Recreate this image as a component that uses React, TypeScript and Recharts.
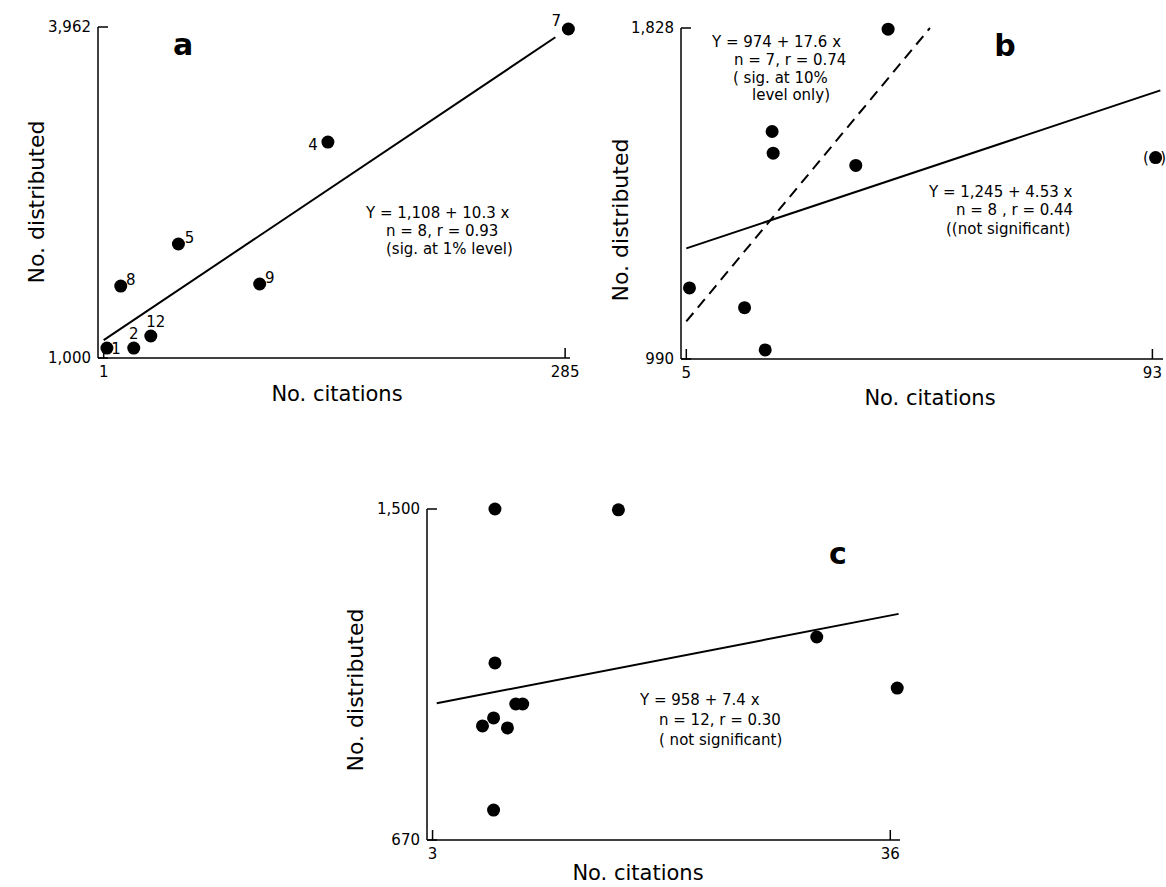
import { ScatterChart, Scatter, XAxis, YAxis, ReferenceLine } from "recharts";

// panel a: numbered points
const labelsA = ["1", "2", "12", "8", "5", "9", "4", "7"];
const citesA = [3, 19.5, 30, 11.5, 47, 97, 139, 287];
const distA = [1089, 1089, 1197, 1644, 2020, 1662, 2932, 3944];
const fitA = [
  { x: 1, y: 1160 },
  { x: 279, y: 3870 },
];

// panel b: last point is the bracketed one
const citesB = [5.6, 16, 19.9, 21.2, 21.4, 37, 43.1, 93.6];
const distB = [1170, 1120, 1013, 1566, 1511, 1480, 1825, 1500];
const fitB7 = [
  { x: 5, y: 1085 },
  { x: 51, y: 1828 },
];
const fitB8 = [
  { x: 5, y: 1270 },
  { x: 94.5, y: 1670 },
];

// panel c
const citesC = [7.5, 16.4, 7.5, 7.4, 6.6, 8.4, 9.0, 9.5, 7.4, 30.7, 36.5];
const distC = [1500, 1498, 1114, 976, 956, 951, 1011, 1011, 745, 1179, 1051];
const fitC = [
  { x: 3.3, y: 1013 },
  { x: 36.6, y: 1237 },
];

const ticksA = { x: [1, 285], y: [1000, 3962] };
const ticksB = { x: [5, 93], y: [990, 1828] };
const ticksC = { x: [3, 36], y: [670, 1500] };

// where each number sits relative to its dot
const labelOffset: Record<string, [number, number]> = {
  "1": [9, 1],
  "2": [0, -14],
  "12": [5, -14],
  "8": [10, -6],
  "5": [11, -6],
  "9": [10, -6],
  "4": [-15, 3],
  "7": [-12, -8],
};

const font = "'DejaVu Sans', sans-serif";

const dataA = citesA.map((x, i) => ({ x, y: distA[i], label: labelsA[i] }));
const dataB = citesB.map((x, i) => ({ x, y: distB[i] }));
const dataC = citesC.map((x, i) => ({ x, y: distC[i] }));

const fmt = (v: number) => v.toLocaleString("en-US");

function YTick(props: any) {
  const { x, y, payload } = props;
  return (
    <g>
      <line x1={x} x2={x + 10} y1={y} y2={y} stroke="#000" strokeWidth={1.5} />
      <text x={x - 7} y={y + 5} textAnchor="end" fontSize={15} fontFamily={font} fill="#000">
        {fmt(payload.value)}
      </text>
    </g>
  );
}

function XTick(props: any) {
  const { x, y, payload } = props;
  return (
    <g>
      <line x1={x} x2={x} y1={y} y2={y - 10} stroke="#000" strokeWidth={1.5} />
      <text x={x} y={y + 19} textAnchor="middle" fontSize={15} fontFamily={font} fill="#000">
        {payload.value}
      </text>
    </g>
  );
}

function Dot(props: any) {
  const { cx, cy, payload } = props;
  const off = payload && payload.label ? labelOffset[payload.label] : null;
  return (
    <g>
      <circle cx={cx} cy={cy} r={6.5} fill="#000" />
      {off && (
        <text
          x={cx + off[0]}
          y={cy + off[1] + 5}
          textAnchor="middle"
          fontSize={15}
          fontFamily={font}
          fill="#000"
        >
          {payload.label}
        </text>
      )}
    </g>
  );
}

const axisStroke = { stroke: "#000", strokeWidth: 1.5 };

function Panel({
  left,
  top,
  width,
  height,
  margin,
  xDomain,
  yDomain,
  ticks,
  data,
  children,
}: any) {
  return (
    <div style={{ position: "absolute", left, top }}>
      <ScatterChart width={width} height={height} margin={margin}>
        <XAxis
          type="number"
          dataKey="x"
          domain={xDomain}
          ticks={ticks.x}
          tick={<XTick />}
          tickLine={false}
          tickSize={0}
          tickMargin={0}
          axisLine={axisStroke}
          height={30}
        />
        <YAxis
          type="number"
          dataKey="y"
          domain={yDomain}
          ticks={ticks.y}
          tick={<YTick />}
          tickLine={false}
          tickSize={0}
          tickMargin={0}
          axisLine={axisStroke}
          width={60}
        />
        {children}
        <Scatter data={data} shape={<Dot />} isAnimationActive={false} />
      </ScatterChart>
    </div>
  );
}

function T({ x, y, children, size = 15, anchor = "start", weight = 400, rotate = 0 }: any) {
  return (
    <text
      x={x}
      y={y}
      fontSize={size}
      fontFamily={font}
      fontWeight={weight}
      textAnchor={anchor}
      fill="#000"
      transform={rotate ? `rotate(${rotate} ${x} ${y})` : undefined}
    >
      {children}
    </text>
  );
}

export default function App() {
  return (
    <div style={{ position: "absolute", left: 0, top: 0, width: 1166, height: 887, background: "#fff", overflow: "hidden" }}>
      {/* a */}
      <Panel
        left={0}
        top={0}
        width={600}
        height={420}
        margin={{ top: 27, right: 30, bottom: 32, left: 38 }}
        xDomain={[-2.5, 288]}
        yDomain={[1000, 3962]}
        ticks={ticksA}
        data={dataA}
      >
        <ReferenceLine segment={fitA} stroke="#000" strokeWidth={2} ifOverflow="visible" />
      </Panel>

      {/* b */}
      <Panel
        left={580}
        top={0}
        width={586}
        height={420}
        margin={{ top: 28, right: 3, bottom: 31, left: 41 }}
        xDomain={[4, 95]}
        yDomain={[990, 1828]}
        ticks={ticksB}
        data={dataB}
      >
        <ReferenceLine segment={fitB7} stroke="#000" strokeWidth={2} strokeDasharray="11 7" ifOverflow="visible" />
        <ReferenceLine segment={fitB8} stroke="#000" strokeWidth={2} ifOverflow="visible" />
      </Panel>

      {/* c */}
      <Panel
        left={320}
        top={480}
        width={620}
        height={400}
        margin={{ top: 29, right: 40, bottom: 10, left: 47 }}
        xDomain={[2.6, 36.7]}
        yDomain={[670, 1500]}
        ticks={ticksC}
        data={dataC}
      >
        <ReferenceLine segment={fitC} stroke="#000" strokeWidth={2} ifOverflow="visible" />
      </Panel>

      <svg
        width={1166}
        height={887}
        style={{ position: "absolute", left: 0, top: 0, pointerEvents: "none" }}
      >
        {/* panel a text */}
        <T x={183} y={55} size={30} weight={700} anchor="middle">a</T>
        <T x={44} y={202} size={22} anchor="middle" rotate={-90}>No. distributed</T>
        <T x={337} y={401} size={21} anchor="middle">No. citations</T>
        <T x={366} y={218}>Y = 1,108 + 10.3 x</T>
        <T x={386} y={236}>n = 8, r = 0.93</T>
        <T x={386} y={254}>(sig. at 1% level)</T>

        {/* panel b text */}
        <T x={1005} y={56} size={30} weight={700} anchor="middle">b</T>
        <T x={628} y={220} size={22} anchor="middle" rotate={-90}>No. distributed</T>
        <T x={930} y={405} size={21} anchor="middle">No. citations</T>
        <T x={712} y={47}>Y = 974 + 17.6 x</T>
        <T x={734} y={65}>n = 7, r = 0.74</T>
        <T x={733} y={83}>( sig. at 10%</T>
        <T x={752} y={100}>level only)</T>
        <T x={929} y={197}>Y = 1,245 + 4.53 x</T>
        <T x={956} y={215}>n = 8 , r = 0.44</T>
        <T x={946} y={234}>((not significant)</T>
        <T x={1146} y={163} anchor="middle">(</T>
        <T x={1166} y={163} anchor="end">)</T>

        {/* panel c text */}
        <T x={838} y={564} size={30} weight={700} anchor="middle">c</T>
        <T x={363} y={690} size={22} anchor="middle" rotate={-90}>No. distributed</T>
        <T x={638} y={880} size={21} anchor="middle">No. citations</T>
        <T x={640} y={705}>Y = 958 + 7.4 x</T>
        <T x={659} y={725}>n = 12, r = 0.30</T>
        <T x={659} y={745}>( not significant)</T>
      </svg>
    </div>
  );
}
